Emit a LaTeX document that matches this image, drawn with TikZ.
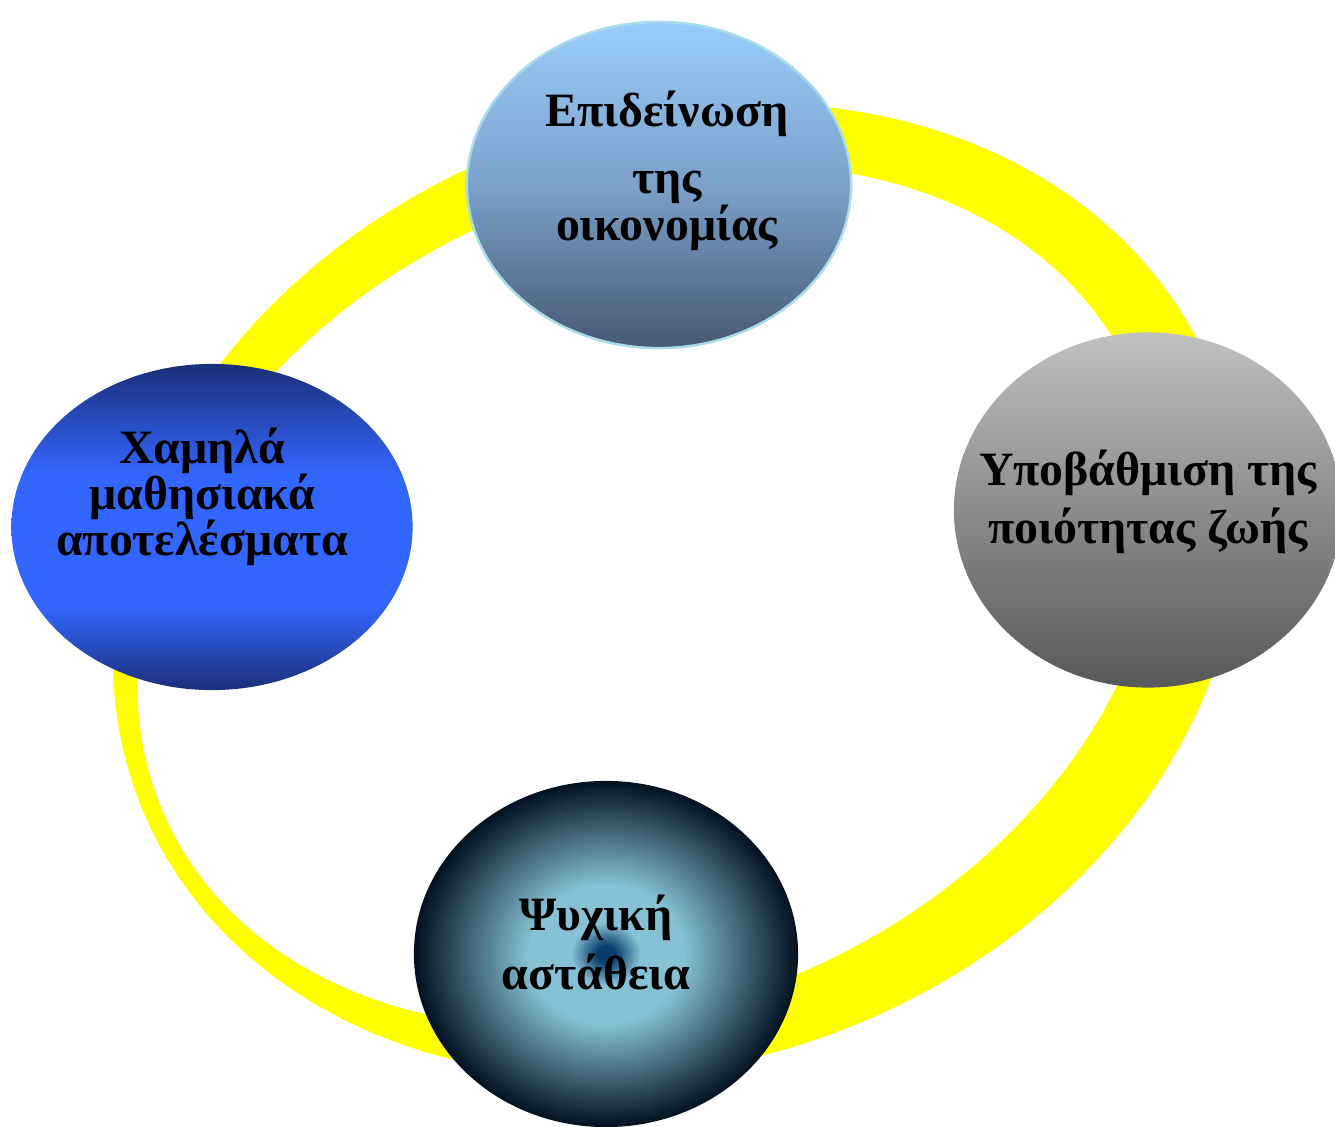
\documentclass[tikz,border=0pt]{standalone}
\usepackage{fontspec}
\setmainfont{Liberation Serif}
\usetikzlibrary{shapes.geometric}

\definecolor{ringyellow}{HTML}{FFFF00}
\definecolor{econhigh}{HTML}{9ACCFA}
\definecolor{econmid}{HTML}{7BA1CA}
\definecolor{econlow}{HTML}{465973}
\definecolor{econrim}{HTML}{A8DCE8}
\definecolor{learndark}{HTML}{1B2F78}
\definecolor{learnbright}{HTML}{3366FF}
\definecolor{lifehigh}{HTML}{C0C0C0}
\definecolor{lifelow}{HTML}{585858}
\definecolor{psychedge}{HTML}{031120}
\definecolor{psychlight}{HTML}{86C1D5}
\definecolor{psychspot}{HTML}{0A3D6B}

\pgfdeclareverticalshading{econshade}{100bp}{color(0bp)=(econlow); color(25bp)=(econlow); color(50bp)=(econmid); color(75bp)=(econhigh); color(100bp)=(econhigh)}
\pgfdeclareverticalshading{learnshade}{100bp}{color(0bp)=(learndark); color(25bp)=(learndark); color(38bp)=(learnbright); color(58bp)=(learnbright); color(75bp)=(learndark); color(100bp)=(learndark)}
\pgfdeclareradialshading{psychshade}{\pgfpoint{0bp}{0bp}}{color(0bp)=(psychspot); color(1.2bp)=(psychspot); color(4.5bp)=(psychlight); color(10bp)=(psychlight); color(25bp)=(psychedge); color(50bp)=(psychedge)}

\tikzset{
  bubble/.style={ellipse, inner sep=0pt},
  bubtext/.style={align=center, inner sep=0pt},
}

\begin{document}
\begin{tikzpicture}[x=0.01cm, y=-0.01cm]
        \useasboundingbox (0,0) rectangle (1335,1127);

        % ring: two tilted ellipses, filled between
        \fill[ringyellow, even odd rule]
          plot[variable=\t, domain=0:360, samples=145] ({677+578*cos(\t)*cos(22)-470*sin(\t)*sin(22)}, {590-578*cos(\t)*sin(22)-470*sin(\t)*cos(22)}) -- cycle
          plot[variable=\t, domain=0:360, samples=145] ({649+532*cos(\t)*cos(25)-406*sin(\t)*sin(25)}, {596-532*cos(\t)*sin(25)-406*sin(\t)*cos(25)}) -- cycle;

        % bubbles
        \node[bubble, shading=econshade, draw=econrim, line width=0.7pt, minimum width=3.84cm, minimum height=3.26cm] (econ) at (659,185) {};
        \node[bubble, top color=lifehigh, bottom color=lifelow, minimum width=3.88cm, minimum height=3.55cm] (life) at (1148,510) {};
        \node[bubble, shading=psychshade, minimum width=3.84cm, minimum height=3.46cm] (psych) at (606,954) {};
        \node[bubble, shading=learnshade, minimum width=4.01cm, minimum height=3.26cm] (learn) at (212,527) {};

        % labels
        \node[bubtext, font=\fontsize{13.6}{13.4}\selectfont\bfseries] (econtxt) at (667,171) {Επιδείνωση\\[5.5pt]της\\οικονομίας};
        \node[bubtext, font=\fontsize{13.6}{16.5}\selectfont\bfseries] (lifetxt) at (1148,502) {Υποβάθμιση της\\ποιότητας ζωής};
        \node[bubtext, font=\fontsize{13.6}{16.8}\selectfont\bfseries] (psychtxt) at (596,942) {Ψυχική\\αστάθεια};
        \node[bubtext, font=\fontsize{13.6}{13.1}\selectfont\bfseries] (learntxt) at (202,497) {Χαμηλά\\μαθησιακά\\αποτελέσματα};
\end{tikzpicture}
\end{document}
